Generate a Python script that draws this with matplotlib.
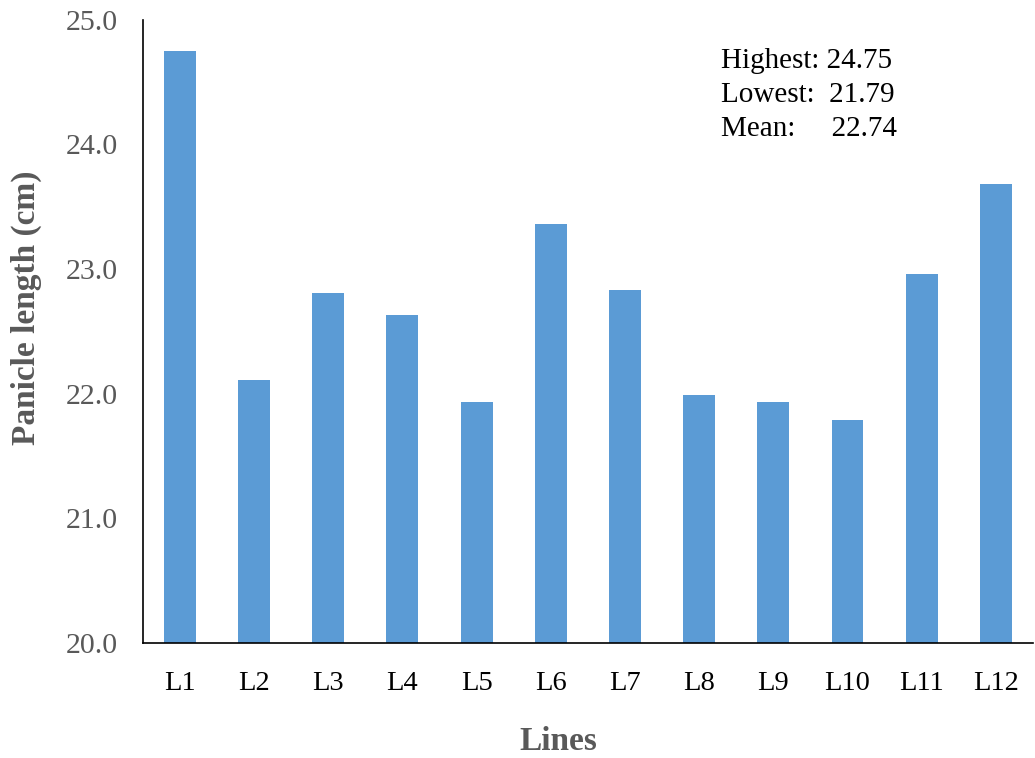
import numpy as np
import matplotlib.pyplot as plt

plt.rcParams['font.family'] = ['Liberation Serif', 'DejaVu Serif']

lines = ["L1", "L2", "L3", "L4", "L5", "L6", "L7", "L8", "L9", "L10", "L11", "L12"]
panicle_length = [24.75, 22.11, 22.81, 22.63, 21.93, 23.36, 22.83, 21.99, 21.93, 21.79, 22.96, 23.68]

fig = plt.figure(figsize=(10.35, 7.58), dpi=100)
ax = fig.add_axes([0.138, 0.152, 0.860, 0.822])

x = np.arange(len(lines))
ax.bar(x, panicle_length, width=0.43, color="#5B9BD5", zorder=2)

ax.set_xlim(-0.5, len(lines) - 0.5)
ax.set_ylim(20, 25)
ax.set_yticks(np.arange(20, 25.5, 1.0))
ax.set_yticklabels([f"{v:.1f}" for v in np.arange(20, 25.5, 1.0)])
ax.set_xticks(x)
ax.set_xticklabels(lines)

ax.tick_params(axis="y", length=0, pad=18, labelsize=21.5, labelcolor="#595959")
ax.tick_params(axis="x", length=0, pad=20, labelsize=20.5, labelcolor="black")

for s in ["top", "right"]:
    ax.spines[s].set_visible(False)
for s in ["left", "bottom"]:
    ax.spines[s].set_color("black")
    ax.spines[s].set_linewidth(1.2)

ax.set_ylabel("Panicle length (cm)", fontsize=24, fontweight="bold", color="#595959")
ax.set_xlabel("Lines", fontsize=24, fontweight="bold", color="#595959")
ax.yaxis.set_label_coords(-0.113, 0.538)
ax.xaxis.set_label_coords(0.467, -0.133)

hi = max(panicle_length)
lo = min(panicle_length)
mean = np.mean(panicle_length) + 0.005
ax.text(7.3, 24.665, f"Highest: {hi:.2f}", fontsize=21, va="center", ha="left")
ax.text(7.3, 24.395, f"Lowest:  {lo:.2f}", fontsize=21, va="center", ha="left")
ax.text(7.3, 24.125, f"Mean:     {mean:.2f}", fontsize=21, va="center", ha="left")

fig.savefig("out.png", dpi=100)
